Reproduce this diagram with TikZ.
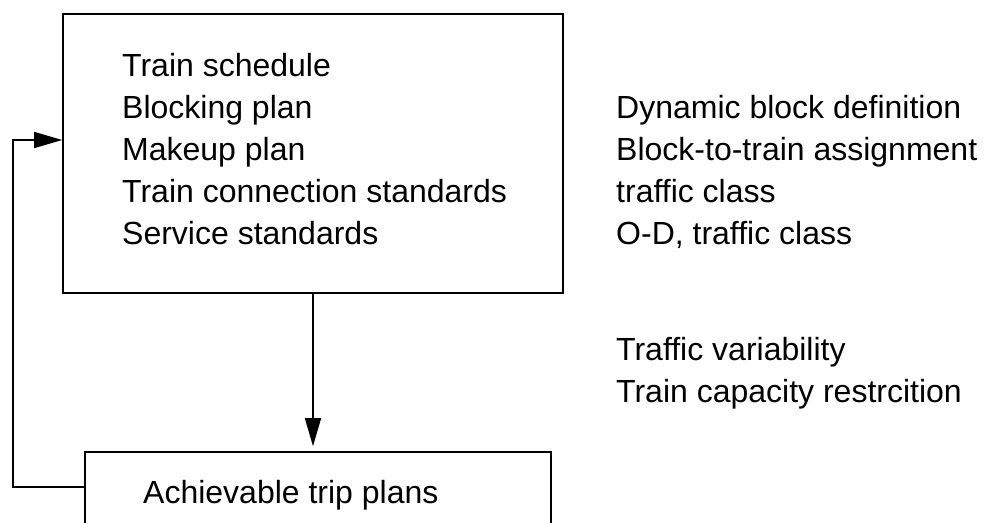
\documentclass[tikz,border=0pt]{standalone}
\usepackage{fontspec}
\setmainfont{Liberation Sans}
\usetikzlibrary{arrows.meta}
\begin{document}
\begin{tikzpicture}[x=1pt,y=-1pt,
  box/.style={draw, line width=1.6pt, rectangle, inner sep=0pt},
  txt/.style={anchor=base west, inner sep=0pt, font=\fontsize{32}{38}\selectfont},
  arr/.style={line width=1.5pt, -{Triangle[length=28pt,width=16pt]}}]
\useasboundingbox (0,0) rectangle (987,522);
\clip (0,0) rectangle (987,522);
\fill[white] (0,0) rectangle (987,522);
% boxes
\node[box, minimum width=500pt, minimum height=279pt] (top) at (313,153.5) {};
\node[box, minimum width=466pt, minimum height=140pt] (bot) at (318,522) {};
% texts in the top box
\node[txt] (t1) at (122,76) {Train schedule};
\node[txt] (t2) at (122,118) {Blocking plan};
\node[txt] (t3) at (122,160) {Makeup plan};
\node[txt] (t4) at (122,202) {Train connection standards};
\node[txt] (t5) at (122,244) {Service standards};
% texts on the right
\node[txt] (r1) at (616,118) {Dynamic block definition};
\node[txt] (r2) at (616,160) {Block-to-train assignment};
\node[txt] (r3) at (616,202) {traffic class};
\node[txt] (r4) at (616,244) {O-D, traffic class};
\node[txt] (r5) at (616,360) {Traffic variability};
\node[txt] (r6) at (616,402) {Train capacity restrcition};
% bottom box text
\node[txt] (b1) at (143,503) {Achievable trip plans};
% connectors
\coordinate (turn) at (13,487);
\coordinate (entry) at (63,140);
\draw[arr, shorten >=5pt] (top.south) -- (top.south |- bot.north);
\draw[arr] (bot.west |- turn) -- (turn) |- (top.west |- entry);
\end{tikzpicture}
\end{document}
